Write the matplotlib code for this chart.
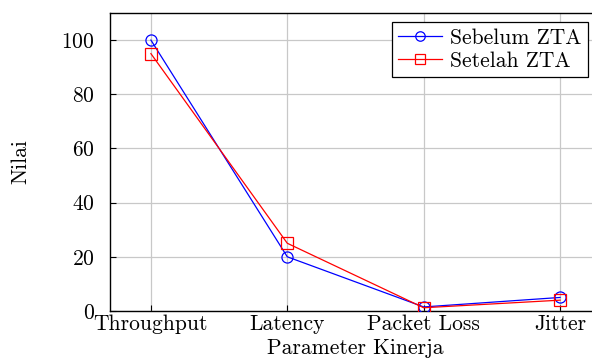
import matplotlib
matplotlib.use("Agg")
import matplotlib.pyplot as plt

categories = ["Throughput", "Latency", "Packet Loss", "Jitter"]
sebelum = [100, 20, 1.5, 5]
setelah = [95, 25, 1.2, 4]
yticks = [0, 20, 40, 60, 80, 100]

plt.rcParams['font.family'] = ['cmr10', 'DejaVu Serif']
plt.rcParams['axes.formatter.use_mathtext'] = True
plt.rcParams['mathtext.fontset'] = 'cm'

FS = 15.5
fig = plt.figure(figsize=(5.92, 3.59), dpi=100)
ax = fig.add_axes([110/592, 1-311/359, (601-110)/592, (311-13)/359])

x = list(range(len(categories)))
ax.plot(x, sebelum, color='blue', marker='o', markersize=8, markerfacecolor='none',
        markeredgecolor='blue', markeredgewidth=0.9, lw=0.9, label='Sebelum ZTA', zorder=3)
ax.plot(x, setelah, color='red', marker='s', markersize=8, markerfacecolor='none',
        markeredgecolor='red', markeredgewidth=0.9, lw=0.9, label='Setelah ZTA', zorder=3)

ax.set_xlim(-0.3, 3.3)
ax.set_ylim(0, 110)
ax.set_xticks(x)
ax.set_xticklabels(categories)
ax.set_yticks(yticks)
ax.tick_params(direction='in', labelsize=FS, length=4, width=0.8)
ax.tick_params(axis='y', pad=11)
ax.tick_params(axis='x', pad=2.5)
ax.grid(True, color='#c8c8c8', lw=0.9)
ax.set_axisbelow(True)
for s in ax.spines.values():
    s.set_linewidth(1.0)

ax.set_xlabel('Parameter Kinerja', fontsize=FS, labelpad=3)
ax.set_ylabel('Nilai', fontsize=FS, labelpad=22)

leg = ax.legend(loc='upper right', bbox_to_anchor=((588-110)/491, 1-(22-13)/298), fontsize=FS,
                frameon=True, fancybox=False, edgecolor='black', framealpha=1,
                handlelength=2.0, borderpad=0.3, labelspacing=0.15, handletextpad=0.4,
                borderaxespad=0, markerscale=0.85)
leg.get_frame().set_linewidth(0.9)

fig.savefig('out.png', dpi=100)
